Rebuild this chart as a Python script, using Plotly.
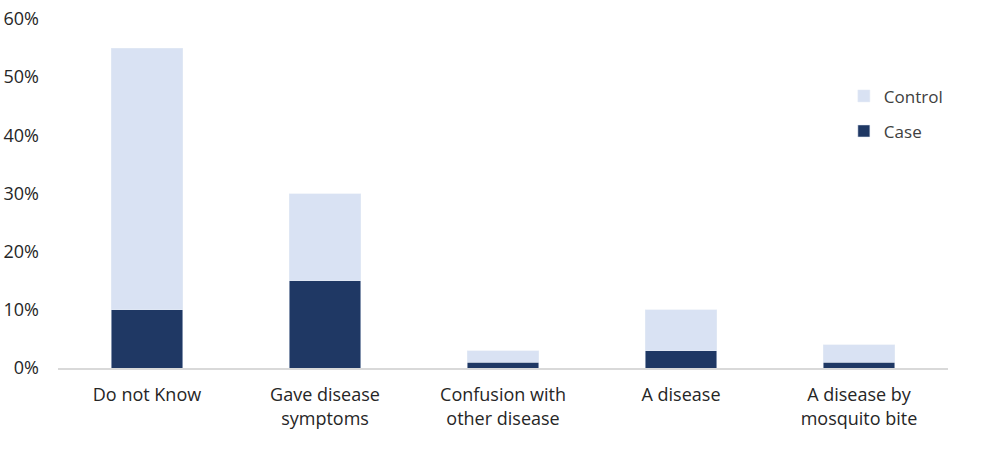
import plotly.graph_objects as go

categories = ["Do not Know", "Gave disease<br>symptoms", "Confusion with<br>other disease", "A disease", "A disease by<br>mosquito bite"]
case_vals = [10, 15, 1, 3, 1]
control_vals = [45, 15, 2, 7, 3]
tick_vals = [0, 10, 20, 30, 40, 50, 60]
tick_text = ["0%", "10%", "20%", "30%", "40%", "50%", "60%"]

font_family = "Open Sans, Lato, sans-serif"
text_color = "#262626"

fig = go.Figure()
fig.add_trace(go.Bar(name="Case", x=categories, y=case_vals, marker_color="#1F3864", width=0.4,
                     legendgroup="case", legendrank=2))
fig.add_trace(go.Bar(name="Control", x=categories, y=control_vals, marker_color="#D9E2F3", width=0.4,
                     legendgroup="control", legendrank=1))

fig.update_layout(
    barmode="stack",
    width=985, height=449,
    margin=dict(l=58, r=37, t=19, b=81, autoexpand=False),
    plot_bgcolor="white", paper_bgcolor="white",
    font=dict(family=font_family, size=18, color=text_color),
    showlegend=True,
    legend=dict(traceorder="grouped", x=0.883, y=0.83, xanchor="left", yanchor="top",
                font=dict(size=17, color="#404040"), itemwidth=30, tracegroupgap=10,
                bgcolor="rgba(0,0,0,0)"),
)
fig.update_yaxes(range=[0, 60], tickvals=tick_vals, ticktext=tick_text, showgrid=False,
                 zeroline=False, showline=False, ticks="", ticklabelstandoff=18, automargin=False)
fig.update_xaxes(showline=True, linecolor="#D9D9D9", linewidth=1.5, ticks="", showgrid=False,
                 ticklabelstandoff=10, automargin=False)

fig.write_html("out.html", config={"displayModeBar": False},
               post_script="document.body.style.margin='0';")
